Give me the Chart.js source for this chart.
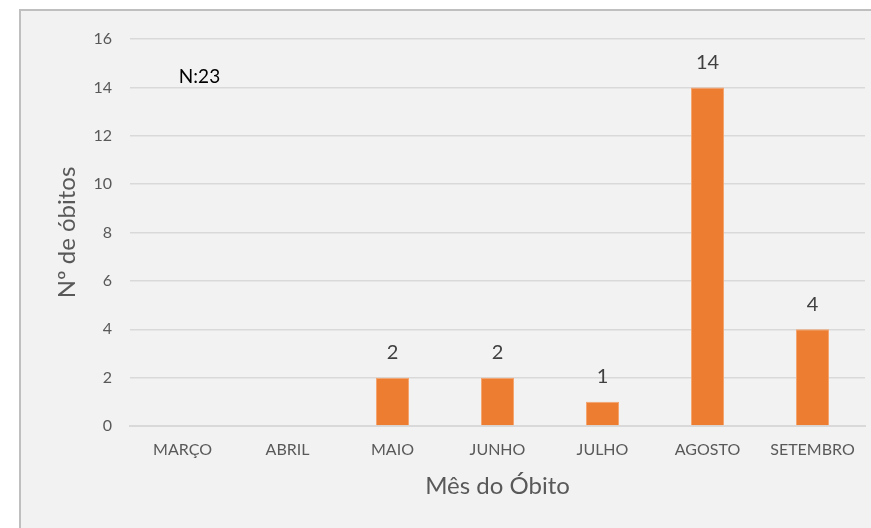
<!DOCTYPE html>
<html>
<head>
<meta charset="utf-8">
<script src="https://cdn.jsdelivr.net/npm/chart.js@4/dist/chart.umd.min.js"></script>
<style>
  html, body { margin: 0; padding: 0; background: #ffffff; }
  #wrap { width: 871px; height: 528px; position: relative; }
</style>
</head>
<body>
<div id="wrap"><canvas id="c" width="871" height="528"></canvas></div>
<script>
const categories = ["MARÇO", "ABRIL", "MAIO", "JUNHO", "JULHO", "AGOSTO", "SETEMBRO"];
const deaths = [0, 0, 2, 2, 1, 14, 4];
const yTicks = [0, 2, 4, 6, 8, 10, 12, 14, 16];
const annotationText = "N:23";
const xTitle = "Mês do Óbito";
const yTitle = "Nº de óbitos";

const FONT = "Lato, 'Open Sans', sans-serif";

const framePlugin = {
  id: 'frame',
  beforeDraw(chart) {
    const ctx = chart.ctx;
    ctx.save();
    ctx.fillStyle = '#ffffff';
    ctx.fillRect(0, 0, chart.width, chart.height);
    ctx.fillStyle = '#f2f2f2';
    ctx.fillRect(20, 10, chart.width, chart.height);
    ctx.strokeStyle = '#bfbfbf';
    ctx.lineWidth = 2;
    ctx.beginPath();
    ctx.moveTo(20, chart.height + 5);
    ctx.lineTo(20, 10);
    ctx.lineTo(chart.width + 5, 10);
    ctx.stroke();
    ctx.restore();
  }
};

const labelsPlugin = {
  id: 'valueLabels',
  afterDatasetsDraw(chart) {
    const ctx = chart.ctx;
    const meta = chart.getDatasetMeta(0);
    ctx.save();
    ctx.font = "20px " + FONT;
    ctx.fillStyle = '#404040';
    ctx.textAlign = 'center';
    ctx.textBaseline = 'middle';
    meta.data.forEach((bar, i) => {
      const v = chart.data.datasets[0].data[i];
      if (!v) return;
      ctx.fillText(String(v), bar.x, bar.y - 25);
    });
    const ys = chart.scales.y;
    const xs = chart.scales.x;
    ctx.font = "19px " + FONT;
    ctx.fillStyle = '#000000';
    ctx.fillText(annotationText, xs.getPixelForValue(0) + 17, ys.getPixelForValue(14) - 11);
    ctx.restore();
  }
};

new Chart(document.getElementById('c'), {
  type: 'bar',
  data: {
    labels: categories,
    datasets: [{
      data: deaths,
      backgroundColor: '#ed7d31',
      borderColor: '#f4a46e',
      borderWidth: 1,
      barPercentage: 0.315,
      categoryPercentage: 1.0
    }]
  },
  options: {
    responsive: false,
    animation: false,
    devicePixelRatio: 1,
    layout: { padding: { top: 39, right: 6, bottom: 0, left: 0 } },
    plugins: { legend: { display: false }, tooltip: { enabled: false } },
    scales: {
      x: {
        grid: { display: false, drawTicks: false },
        border: { display: true, color: '#d9d9d9', width: 2 },
        ticks: { color: '#595959', font: { family: FONT, size: 16 }, padding: 14, maxRotation: 0 },
        title: { display: true, text: xTitle, color: '#595959', font: { family: FONT, size: 24 }, padding: { top: 0, bottom: 27 } },
        afterFit(scale) { scale.height = 102; }
      },
      y: {
        min: 0, max: 16,
        afterBuildTicks(scale) { scale.ticks = yTicks.map(v => ({ value: v })); },
        grid: { color: '#d9d9d9', lineWidth: 1.5, drawTicks: false },
        border: { display: false },
        ticks: { color: '#595959', font: { family: FONT, size: 16 }, padding: 18 },
        title: { display: true, text: yTitle, color: '#595959', font: { family: FONT, size: 24 }, padding: { top: 53, bottom: 0 } },
        afterFit(scale) { scale.width = 130; }
      }
    }
  },
  plugins: [framePlugin, labelsPlugin]
});
</script>
</body>
</html>
